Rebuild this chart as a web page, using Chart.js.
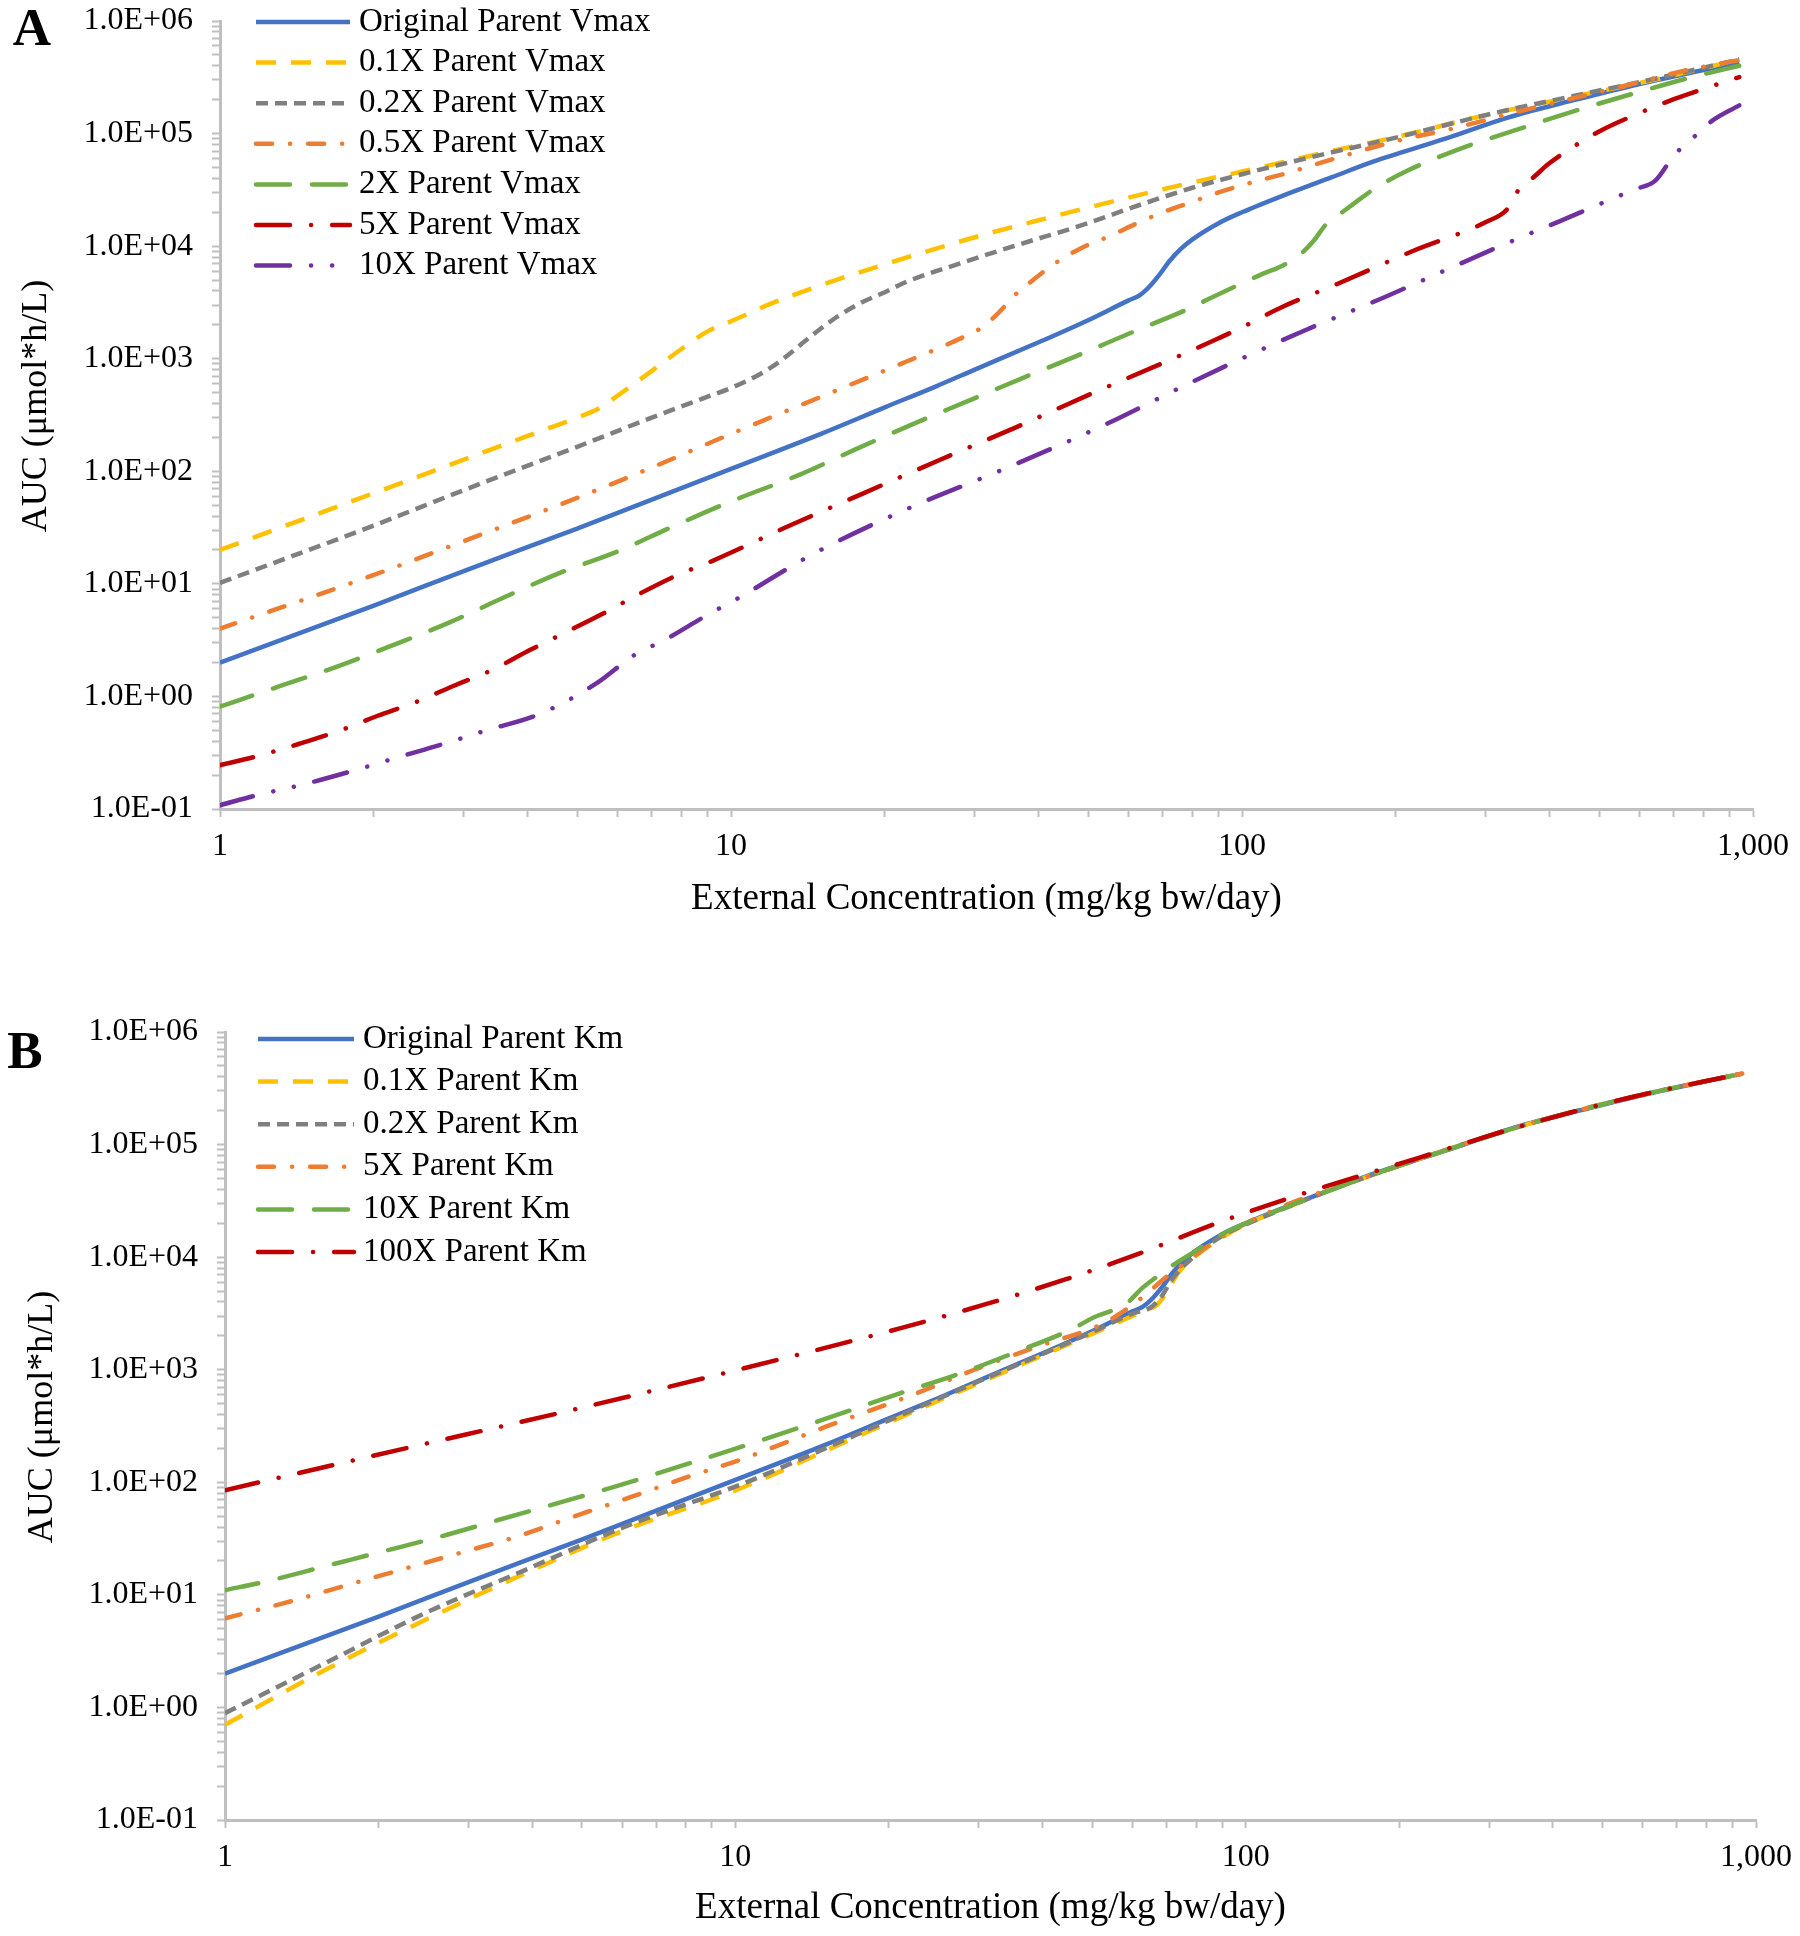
<!DOCTYPE html>
<html>
<head>
<meta charset="utf-8">
<script src="https://cdn.jsdelivr.net/npm/chart.js@4.4.1/dist/chart.umd.min.js"></script>
<style>
  html, body { margin: 0; padding: 0; background: #fff; }
  #wrap { position: relative; width: 1800px; height: 1936px; }
  canvas { position: absolute; left: 0; }
  #chartA { top: 0; }
  #chartB { top: 930px; }
</style>
</head>
<body>
<div id="wrap">
  <canvas id="chartA" width="1800" height="930"></canvas>
  <canvas id="chartB" width="1800" height="1006"></canvas>
</div>
<script>
// axis ticks
const xTickMajor = [1, 10, 100, 1000];
const xTickLabels = ['1', '10', '100', '1,000'];
const yTickMajor = [0.1, 1, 10, 100, 1000, 10000, 100000, 1000000];
const yTickLabels = ['1.0E-01', '1.0E+00', '1.0E+01', '1.0E+02', '1.0E+03', '1.0E+04', '1.0E+05', '1.0E+06'];

// series names
const vmaxNames = ['Original Parent Vmax', '0.1X Parent Vmax', '0.2X Parent Vmax', '0.5X Parent Vmax',
  '2X Parent Vmax', '5X Parent Vmax', '10X Parent Vmax'];
const kmNames = ['Original Parent Km', '0.1X Parent Km', '0.2X Parent Km', '5X Parent Km',
  '10X Parent Km', '100X Parent Km'];

// original parent (same curve in both panels)
const origX = [1, 2, 3, 5, 7, 10, 15, 20, 25, 30, 40, 50, 60, 63, 66, 69, 72, 76, 80, 90, 100, 120, 150, 180, 250, 330, 450, 600, 750, 940];
const origY = [2.0, 6.4, 13, 31, 56, 105, 215, 370, 560, 800, 1400, 2200, 3300, 3650, 4400, 5600, 7300, 9500, 11500, 16000, 20000, 28000, 41000, 56000, 90000, 138000, 200000, 276000, 345000, 427000];

// panel A: Vmax variations
const vmax01X = [1, 2, 3, 4, 5, 5.5, 6, 7, 8, 9, 10, 12, 15, 20, 25, 30, 40, 50, 70, 100, 150, 200, 300, 450, 650, 940];
const vmax01Y = [20, 64, 127, 206, 300, 360, 470, 780, 1220, 1750, 2150, 3100, 4500, 6900, 9400, 12000, 17000, 22000, 32000, 46000, 70000, 93000, 146000, 215000, 305000, 455000];
const vmax02X = [1, 2, 3, 5, 7, 9, 10, 11, 12, 13, 14, 16, 18, 20, 22, 28, 36, 50, 60, 80, 100, 135, 200, 300, 450, 650, 940];
const vmax02Y = [10.2, 33, 68, 165, 300, 460, 550, 670, 840, 1100, 1450, 2300, 3150, 3900, 4800, 7000, 10100, 16000, 21500, 33000, 43500, 61000, 92000, 146000, 218000, 310000, 457000];
const vmax05X = [1, 2, 3, 5, 7, 10, 13.4, 17, 22, 28, 31, 33.5, 36, 39, 43, 48, 56, 62, 71, 80, 90, 104, 120, 150, 195, 263, 340, 445, 575, 730, 940];
const vmax05Y = [4.0, 12, 24, 58, 108, 215, 372, 580, 940, 1500, 1900, 2600, 3700, 5000, 7000, 9400, 12700, 15800, 20500, 24800, 30000, 36600, 43400, 59000, 83000, 113000, 153000, 206000, 273000, 360000, 450000];
const vmax2X = [1, 1.3, 1.7, 2.2, 2.8, 3.6, 4.6, 6, 7.6, 10, 13.6, 17.6, 22.4, 28.9, 37.3, 47.5, 61, 79, 85, 99, 110, 120, 130, 138, 146, 157, 168, 181, 210, 271, 355, 458, 592, 753, 940];
const vmax2Y = [0.81, 1.22, 1.85, 2.9, 4.5, 7.6, 12.4, 19.4, 31.5, 54, 93, 158, 256, 416, 676, 1060, 1720, 2800, 3300, 4580, 5700, 6700, 8450, 11100, 15600, 20000, 25100, 32000, 46500, 75000, 113000, 164000, 231000, 314000, 400000];
const vmax5X = [1, 1.2, 1.43, 1.72, 2.03, 2.43, 2.9, 3.4, 4.04, 4.77, 5.62, 6.53, 7.83, 9.23, 13, 18.2, 25.6, 36.2, 50.4, 71.2, 90, 100, 119, 153, 216, 303, 330, 350, 371, 397, 432, 501, 601, 698, 940];
const vmax5Y = [0.245, 0.3, 0.38, 0.5, 0.67, 0.9, 1.27, 1.71, 2.58, 3.75, 5.45, 7.9, 11.9, 16.1, 32.8, 64, 126, 247, 483, 946, 1520, 1900, 2840, 4580, 9060, 16700, 21200, 33000, 40500, 53300, 70000, 105000, 153000, 201000, 318000];
const vmax10X = [1, 1.2, 1.43, 1.88, 2.24, 2.69, 3.32, 4.23, 5.46, 6.44, 7.48, 8.96, 10.4, 14.5, 22, 34.1, 52.7, 80.2, 104, 134, 189, 248, 320, 419, 537, 587, 643, 688, 719, 770, 830, 940];
const vmax10Y = [0.108, 0.135, 0.162, 0.228, 0.29, 0.37, 0.5, 0.7, 1.31, 2.3, 3.24, 5.25, 7.6, 18.5, 45.8, 104, 247, 628, 1090, 1820, 3480, 6010, 10000, 16700, 27000, 32000, 38000, 57000, 72400, 95000, 129000, 178000];

// panel B: Km variations
const km01X = [1, 1.57, 2.47, 3.87, 6.08, 9.55, 12, 15, 20, 30, 40, 50, 60, 64, 67, 70, 74, 80, 90, 100, 120, 150, 210, 345, 567, 940];
const km01Y = [0.70, 2.15, 6.0, 15.5, 37.7, 78, 120, 190, 340, 760, 1340, 2080, 3000, 3400, 3750, 4900, 7400, 10300, 15000, 19500, 27500, 41000, 70000, 145000, 262000, 427000];
const km02X = [1, 1.57, 2.47, 3.87, 6.08, 10.4, 15, 20, 30, 40, 50, 60, 65, 68, 72, 80, 90, 100, 120, 150, 210, 345, 567, 940];
const km02Y = [0.89, 2.47, 6.9, 16.6, 40.4, 98, 200, 355, 790, 1380, 2150, 3150, 3550, 4300, 6500, 10500, 15500, 19500, 27500, 41000, 70000, 145000, 262000, 427000];
const km5X = [1, 1.3, 1.69, 2.2, 2.87, 3.73, 4.82, 6.27, 8.09, 10.4, 15, 22.7, 29.3, 39, 51.9, 57, 63, 70, 76.7, 85, 94.6, 110, 130, 150, 210, 345, 567, 940];
const km5Y = [6.2, 8.4, 11.8, 16.6, 23.4, 32.9, 49.5, 74.5, 112, 163, 310, 620, 994, 1600, 2500, 3200, 4460, 6700, 9120, 12800, 17400, 24500, 33500, 41500, 70000, 145000, 262000, 427000];
const km10X = [1, 1.2, 1.56, 2.03, 2.64, 3.43, 4.47, 5.81, 7.56, 9.84, 15, 21, 27.6, 35.6, 46, 50, 58.5, 62.6, 67, 72, 78.4, 91.8, 102, 128, 173, 220, 345, 567, 940];
const km10Y = [11, 13.1, 17.8, 24.2, 32.9, 46.2, 65, 91.5, 133, 194, 365, 617, 929, 1445, 2330, 2870, 3900, 5280, 6700, 8500, 10800, 16800, 20700, 31100, 52000, 75000, 145000, 262000, 427000];
const km100X = [1, 2.19, 4.78, 10.4, 21, 30.6, 44, 62, 87.7, 124, 178, 220, 345, 567, 940];
const km100Y = [85, 194, 438, 1030, 2330, 3760, 6270, 10800, 20000, 34400, 57400, 77100, 145000, 262000, 427000];

// line looks (excel-ish palette and dash types)
const looks = [
  { color: '#4472C4', dash: [], cap: 'butt' },                      // solid
  { color: '#FFC000', dash: [20, 15], cap: 'butt' },                // dash
  { color: '#7F7F7F', dash: [12, 7], cap: 'butt' },                 // short dash
  { color: '#ED7D31', dash: [16, 18, 0.1, 18], cap: 'round' },      // dash dot
  { color: '#70AD47', dash: [34, 22], cap: 'round' },               // long dash
  { color: '#C00000', dash: [34, 21, 0.1, 21], cap: 'round' },      // long dash dot
  { color: '#7030A0', dash: [34, 21, 0.1, 21, 0.1, 21], cap: 'round' } // long dash dot dot
];

const serif = "'Liberation Serif', 'Times New Roman', serif";
Chart.defaults.font.family = serif;
Chart.defaults.color = '#000';

const pts = (xs, ys) => xs.map((x, i) => ({ x: x, y: ys[i] }));

function withMinor(majors) {
  const out = [];
  for (let i = 0; i < majors.length - 1; i++) {
    out.push(majors[i]);
    for (let k = 2; k <= 9; k++) out.push(majors[i] * k);
  }
  out.push(majors[majors.length - 1]);
  return out;
}

function makeSets(names, series) {
  const n = names.length;
  return names.map((name, i) => ({
    label: name,
    data: pts(series[i][0], series[i][1]),
    borderColor: looks[i].color,
    borderDash: looks[i].dash,
    borderCapStyle: looks[i].cap,
    borderJoinStyle: 'round',
    borderWidth: 4.5,
    pointRadius: 0,
    fill: false,
    cubicInterpolationMode: 'monotone',
    order: n - i
  }));
}

// legend drawn inside the plot, like the original
const insideLegend = {
  id: 'insideLegend',
  afterDraw(chart, args, o) {
    const ctx = chart.ctx;
    ctx.save();
    ctx.font = o.font;
    ctx.textBaseline = 'middle';
    ctx.fillStyle = '#000';
    chart.data.datasets.forEach((ds, i) => {
      const y = o.top + i * o.rowGap;
      ctx.save();
      ctx.strokeStyle = ds.borderColor;
      ctx.lineWidth = ds.borderWidth;
      ctx.lineCap = ds.borderCapStyle;
      ctx.setLineDash(ds.borderDash);
      ctx.beginPath();
      ctx.moveTo(o.x1, y);
      ctx.lineTo(o.x2, y);
      ctx.stroke();
      ctx.restore();
      ctx.fillText(ds.label, o.textX, y);
    });
    ctx.restore();
  }
};

const panelLetter = {
  id: 'panelLetter',
  afterDraw(chart, args, o) {
    const ctx = chart.ctx;
    ctx.save();
    ctx.font = 'bold 53px ' + serif;
    ctx.fillStyle = '#000';
    ctx.textAlign = 'center';
    ctx.textBaseline = 'middle';
    ctx.fillText(o.text, o.x, o.y);
    ctx.restore();
  }
};

function axes(yWidth, xHeight, yTitlePad, xTitlePad) {
  const axisGrey = '#bfbfbf';
  return {
    x: {
      type: 'logarithmic',
      min: 1,
      max: 1000,
      afterBuildTicks: s => { s.ticks = withMinor(xTickMajor).map(v => ({ value: v })); },
      afterFit: s => { s.height = xHeight; s.paddingLeft = 0; s.paddingRight = 0; },
      ticks: {
        autoSkip: false, maxRotation: 0, minRotation: 0, padding: 10,
        font: { size: 32 },
        callback: v => { const i = xTickMajor.indexOf(v); return i < 0 ? '' : xTickLabels[i]; }
      },
      grid: { drawOnChartArea: false, tickLength: 8, tickColor: axisGrey, tickWidth: 2 },
      border: { color: axisGrey, width: 3 },
      title: {
        display: true, text: 'External Concentration (mg/kg bw/day)',
        font: { size: 37 }, padding: { top: 0, bottom: xTitlePad }
      }
    },
    y: {
      type: 'logarithmic',
      min: 0.1,
      max: 1000000,
      afterBuildTicks: s => { s.ticks = withMinor(yTickMajor).map(v => ({ value: v })); },
      afterFit: s => { s.width = yWidth; s.paddingTop = 0; s.paddingBottom = 0; },
      ticks: {
        autoSkip: false, padding: 19,
        font: { size: 32 },
        callback: v => { const i = yTickMajor.indexOf(v); return i < 0 ? '' : yTickLabels[i]; }
      },
      grid: { drawOnChartArea: false, tickLength: 8, tickColor: axisGrey, tickWidth: 2 },
      border: { color: axisGrey, width: 3 },
      title: {
        // two leading spaces nudge the rotated title up a little, as in the original
        display: true, text: '  AUC (μmol*h/L)',
        font: { size: 36 }, padding: { top: yTitlePad, bottom: 0 }
      }
    }
  };
}

new Chart(document.getElementById('chartA'), {
  type: 'line',
  data: {
    datasets: makeSets(vmaxNames, [
      [origX, origY], [vmax01X, vmax01Y], [vmax02X, vmax02Y], [vmax05X, vmax05Y],
      [vmax2X, vmax2Y], [vmax5X, vmax5Y], [vmax10X, vmax10Y]
    ])
  },
  options: {
    responsive: false,
    animation: false,
    devicePixelRatio: 1,
    layout: { padding: { left: 0, right: 47, top: 21, bottom: 0 } },
    scales: axes(220, 121, 15, 9),
    plugins: {
      legend: { display: false },
      tooltip: { enabled: false },
      insideLegend: { font: '33px ' + serif, x1: 256, x2: 350, textX: 359, top: 22, rowGap: 40.6 },
      panelLetter: { text: 'A', x: 32, y: 31 }
    }
  },
  plugins: [insideLegend, panelLetter]
});

new Chart(document.getElementById('chartB'), {
  type: 'line',
  data: {
    datasets: makeSets(kmNames, [
      [origX, origY], [km01X, km01Y], [km02X, km02Y], [km5X, km5Y],
      [km10X, km10Y], [km100X, km100Y]
    ])
  },
  options: {
    responsive: false,
    animation: false,
    devicePixelRatio: 1,
    layout: { padding: { left: 0, right: 44, top: 102, bottom: 0 } },
    scales: axes(225, 116, 21, 6),
    plugins: {
      legend: { display: false },
      tooltip: { enabled: false },
      insideLegend: { font: '33px ' + serif, x1: 258, x2: 354, textX: 363, top: 109, rowGap: 42.6 },
      panelLetter: { text: 'B', x: 25, y: 124 }
    }
  },
  plugins: [insideLegend, panelLetter]
});
</script>
</body>
</html>
